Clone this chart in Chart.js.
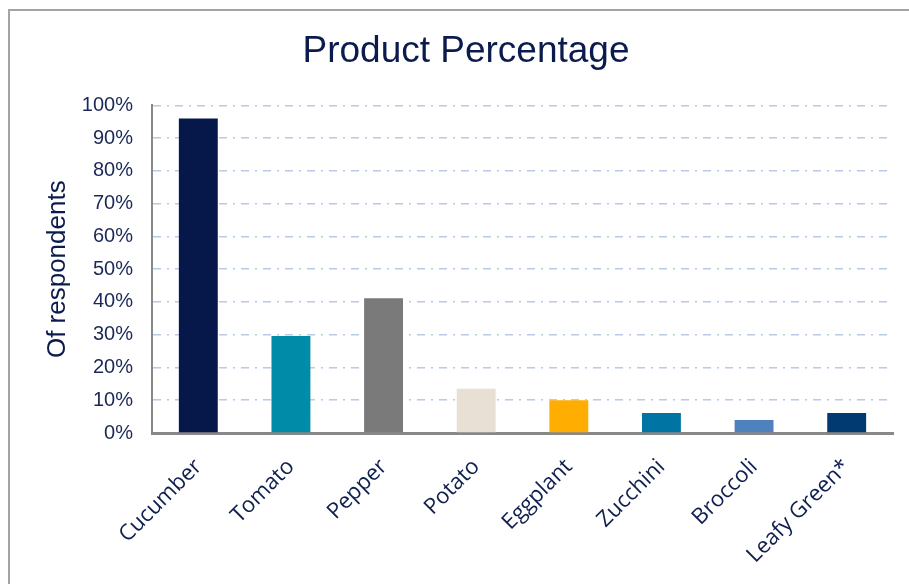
<!DOCTYPE html>
<html>
<head>
<meta charset="utf-8">
<script src="https://cdn.jsdelivr.net/npm/chart.js@4.4.1/dist/chart.umd.min.js"></script>
<style>
    html, body { margin: 0; padding: 0; background: #fff; overflow: hidden; }
    #wrap { position: relative; width: 909px; height: 584px; }
    #marco {
        position: absolute; left: 8px; top: 9px; width: 1000px; height: 1000px;
        border-left: 2px solid #a3a3a3; border-top: 2px solid #a3a3a3;
    }
    canvas { position: absolute; left: 0; top: 0; }
</style>
</head>
<body>
<div id="wrap">
    <div id="marco"></div>
    <canvas id="grafica" width="909" height="584"></canvas>
</div>
<script>
// ==========================================
// DATOS
// ==========================================
const categorias = ['Cucumber', 'Tomato', 'Pepper', 'Potato', 'Eggplant', 'Zucchini', 'Broccoli', 'Leafy Green*'];
const porcentajes = [96, 29.6, 41.1, 13.5, 10, 6.1, 4, 6.1];
const colores = ['#06174a', '#008ba8', '#7a7a7a', '#e8e0d5', '#ffad00', '#0074a2', '#4f81bd', '#003a70'];
const yTicks = [0, 10, 20, 30, 40, 50, 60, 70, 80, 90, 100];

const navy = '#0c1b4d';

new Chart(document.getElementById('grafica'), {
    type: 'bar',
    data: {
        labels: categorias,
        datasets: [{
            data: porcentajes,
            backgroundColor: colores,
            borderWidth: 0,
            barPercentage: 0.42,
            categoryPercentage: 1
        }]
    },
    options: {
        responsive: false,
        animation: false,
        layout: { padding: { left: 39, right: 16, top: 0, bottom: 0 } },
        plugins: {
            legend: { display: false },
            tooltip: { enabled: false },
            title: {
                display: true,
                text: 'Product Percentage',
                color: navy,
                font: { family: "'Liberation Sans', Arial, sans-serif", size: 37, weight: 'normal' },
                padding: { top: 30, bottom: 31 }
            }
        },
        scales: {
            y: {
                min: 0,
                max: 100,
                afterBuildTicks: (scale) => { scale.ticks = yTicks.map(v => ({ value: v })); },
                afterFit: (scale) => { scale.width = 152 - 39; },
                ticks: {
                    padding: 19,
                    color: '#1a2858',
                    font: { family: "'Liberation Sans', Arial, sans-serif", size: 20 },
                    callback: (v) => v + '%'
                },
                grid: { color: '#b8cae8', lineWidth: 1.5, drawTicks: false },
                border: { display: true, color: '#888', width: 2, dash: [8, 6, 2, 6] },
                title: {
                    display: true,
                    text: 'Of respondents',
                    color: navy,
                    font: { family: "'Liberation Sans', Arial, sans-serif", size: 26 },
                    padding: { top: 3, bottom: 0 }
                }
            },
            x: {
                afterFit: (scale) => { scale.height = 584 - 433; },
                ticks: {
                    minRotation: 45,
                    maxRotation: 45,
                    padding: 21,
                    color: '#0f1f4f',
                    font: { family: "'Open Sans', sans-serif", size: 22 }
                },
                grid: { display: false, drawTicks: false },
                border: { display: true, color: '#888', width: 3 }
            }
        }
    }
});
</script>
</body>
</html>
